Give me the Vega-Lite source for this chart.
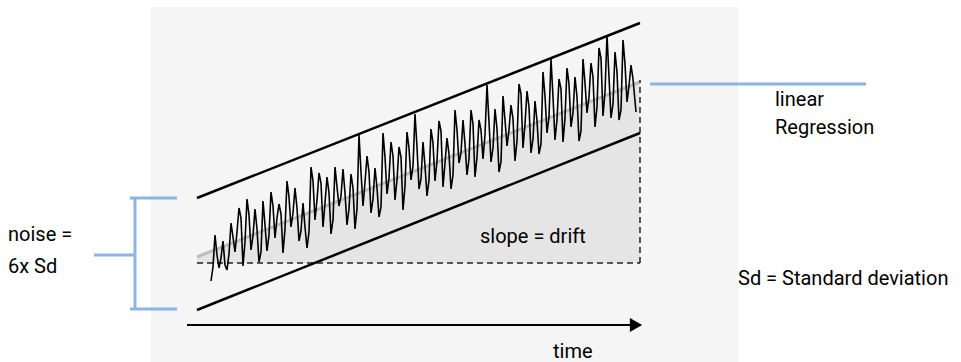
{
  "$schema": "https://vega.github.io/schema/vega-lite/v6.json",
  "width": 961,
  "height": 362,
  "autosize": {"type": "fit", "contains": "padding"},
  "padding": 0,
  "background": "white",
  "config": {"view": {"stroke": null}},
  "datasets": {
    "panel": [{"x1": 151, "x2": 738, "y1": 0, "y2": 355}],
    "fill": [{"x": 197, "y": 105, "y0": 99}, {"x": 640, "y": 280, "y0": 99}],
    "regression": [{"x": 197, "y": 105}, {"x": 640, "y": 280}],
    "dashed": [
      {"x1": 197, "x2": 640, "y1": 99, "y2": 99},
      {"x1": 640, "x2": 640, "y1": 99, "y2": 282}
    ],
    "bands": [
      {"x1": 197, "x2": 640, "y1": 164, "y2": 339},
      {"x1": 197, "x2": 640, "y1": 52, "y2": 229}
    ],
    "timeaxis": [{"x1": 187, "x2": 632, "y1": 37, "y2": 37}],
    "arrow": [{"x": 636, "y": 37}],
    "blue": [
      {"x1": 650, "x2": 866, "y1": 278, "y2": 278},
      {"x1": 135, "x2": 135, "y1": 164, "y2": 53},
      {"x1": 130, "x2": 177, "y1": 164, "y2": 164},
      {"x1": 130, "x2": 177, "y1": 53, "y2": 53},
      {"x1": 94, "x2": 135, "y1": 107, "y2": 107}
    ],
    "labels": [
      {"x": 8, "y": 127, "t": "noise ="},
      {"x": 8, "y": 95, "t": "6x Sd"},
      {"x": 775, "y": 262, "t": "linear"},
      {"x": 775, "y": 234, "t": "Regression"},
      {"x": 738, "y": 83, "t": "Sd = Standard deviation"},
      {"x": 480, "y": 125, "t": "slope = drift"},
      {"x": 553, "y": 10, "t": "time"}
    ],
    "noise": [
      {"x":211,"y":81},{"x":213,"y":95},{"x":215,"y":127},{"x":217,"y":107},{"x":219,"y":94},{"x":221,"y":104},{"x":223,"y":121},{"x":225,"y":97},
      {"x":227,"y":92},{"x":229,"y":108},{"x":231,"y":139},{"x":233,"y":125},{"x":235,"y":110},{"x":237,"y":130},{"x":239,"y":154},{"x":241,"y":144},
      {"x":243,"y":96},{"x":245,"y":120},{"x":247,"y":163},{"x":249,"y":147},{"x":251,"y":112},{"x":253,"y":126},{"x":255,"y":153},{"x":257,"y":133},
      {"x":259,"y":100},{"x":261,"y":110},{"x":263,"y":161},{"x":265,"y":137},{"x":267,"y":111},{"x":269,"y":127},{"x":271,"y":170},{"x":273,"y":156},
      {"x":275,"y":124},{"x":277,"y":144},{"x":279,"y":158},{"x":281,"y":148},{"x":283,"y":109},{"x":285,"y":133},{"x":287,"y":181},{"x":289,"y":165},
      {"x":291,"y":135},{"x":293,"y":149},{"x":295,"y":174},{"x":297,"y":154},{"x":299,"y":121},{"x":301,"y":131},{"x":303,"y":159},{"x":305,"y":135},
      {"x":307,"y":114},{"x":309,"y":130},{"x":311,"y":195},{"x":313,"y":181},{"x":315,"y":142},{"x":317,"y":162},{"x":319,"y":189},{"x":321,"y":179},
      {"x":323,"y":135},{"x":325,"y":159},{"x":327,"y":185},{"x":329,"y":169},{"x":331,"y":128},{"x":333,"y":142},{"x":335,"y":195},{"x":337,"y":175},
      {"x":339,"y":156},{"x":341,"y":166},{"x":343,"y":193},{"x":345,"y":169},{"x":347,"y":137},{"x":349,"y":153},{"x":351,"y":188},{"x":353,"y":174},
      {"x":355,"y":133},{"x":357,"y":153},{"x":359,"y":227},{"x":361,"y":190},{"x":363,"y":156},{"x":365,"y":180},{"x":367,"y":206},{"x":369,"y":190},
      {"x":371,"y":149},{"x":373,"y":163},{"x":375,"y":194},{"x":377,"y":174},{"x":379,"y":145},{"x":381,"y":155},{"x":383,"y":229},{"x":385,"y":205},
      {"x":387,"y":168},{"x":389,"y":184},{"x":391,"y":220},{"x":393,"y":206},{"x":395,"y":162},{"x":397,"y":182},{"x":399,"y":215},{"x":401,"y":205},
      {"x":403,"y":152},{"x":405,"y":176},{"x":407,"y":230},{"x":409,"y":214},{"x":411,"y":182},{"x":413,"y":196},{"x":415,"y":248},{"x":417,"y":215},
      {"x":419,"y":173},{"x":421,"y":183},{"x":423,"y":220},{"x":425,"y":196},{"x":427,"y":166},{"x":429,"y":182},{"x":431,"y":233},{"x":433,"y":219},
      {"x":435,"y":181},{"x":437,"y":201},{"x":439,"y":241},{"x":441,"y":231},{"x":443,"y":175},{"x":445,"y":199},{"x":447,"y":224},{"x":449,"y":208},
      {"x":451,"y":173},{"x":453,"y":187},{"x":455,"y":252},{"x":457,"y":232},{"x":459,"y":199},{"x":461,"y":209},{"x":463,"y":242},{"x":465,"y":218},
      {"x":467,"y":187},{"x":469,"y":203},{"x":471,"y":252},{"x":473,"y":238},{"x":475,"y":185},{"x":477,"y":205},{"x":479,"y":242},{"x":481,"y":232},
      {"x":483,"y":203},{"x":485,"y":227},{"x":487,"y":277},{"x":489,"y":240},{"x":491,"y":200},{"x":493,"y":214},{"x":495,"y":253},{"x":497,"y":233},
      {"x":499,"y":190},{"x":501,"y":200},{"x":503,"y":266},{"x":505,"y":242},{"x":507,"y":216},{"x":509,"y":232},{"x":511,"y":257},{"x":513,"y":243},
      {"x":515,"y":201},{"x":517,"y":221},{"x":519,"y":278},{"x":521,"y":268},{"x":523,"y":214},{"x":525,"y":238},{"x":527,"y":271},{"x":529,"y":255},
      {"x":531,"y":209},{"x":533,"y":223},{"x":535,"y":261},{"x":537,"y":241},{"x":539,"y":208},{"x":541,"y":218},{"x":543,"y":290},{"x":545,"y":266},
      {"x":547,"y":229},{"x":549,"y":245},{"x":551,"y":303},{"x":553,"y":265},{"x":555,"y":222},{"x":557,"y":242},{"x":559,"y":283},{"x":561,"y":273},
      {"x":563,"y":220},{"x":565,"y":244},{"x":567,"y":294},{"x":569,"y":278},{"x":571,"y":235},{"x":573,"y":249},{"x":575,"y":285},{"x":577,"y":265},
      {"x":579,"y":221},{"x":581,"y":231},{"x":583,"y":303},{"x":585,"y":279},{"x":587,"y":249},{"x":589,"y":265},{"x":591,"y":299},{"x":593,"y":285},
      {"x":595,"y":235},{"x":597,"y":255},{"x":599,"y":314},{"x":601,"y":304},{"x":603,"y":246},{"x":605,"y":270},{"x":607,"y":327},{"x":609,"y":285},
      {"x":611,"y":244},{"x":613,"y":258},{"x":615,"y":310},{"x":617,"y":290},{"x":619,"y":242},{"x":621,"y":252},{"x":623,"y":322},{"x":625,"y":298},
      {"x":627,"y":260},{"x":629,"y":276},{"x":631,"y":297},{"x":633,"y":283},{"x":636,"y":250}
    ]
  },
  "layer": [
    {
      "data": {"name": "panel"},
      "mark": {"type": "rect", "color": "#f5f5f5"},
      "encoding": {
        "x": {"field": "x1", "type": "quantitative", "scale": {"domain": [0, 961], "nice": false, "zero": false}, "axis": null},
        "x2": {"field": "x2"},
        "y": {"field": "y1", "type": "quantitative", "scale": {"domain": [0, 362], "nice": false, "zero": false}, "axis": null},
        "y2": {"field": "y2"}
      }
    },
    {
      "data": {"name": "fill"},
      "mark": {"type": "area", "color": "#e5e5e5"},
      "encoding": {
        "x": {"field": "x", "type": "quantitative"},
        "y": {"field": "y", "type": "quantitative"},
        "y2": {"field": "y0"}
      }
    },
    {
      "data": {"name": "regression"},
      "mark": {"type": "line", "color": "#bdbdbd", "strokeWidth": 3},
      "encoding": {
        "x": {"field": "x", "type": "quantitative"},
        "y": {"field": "y", "type": "quantitative"}
      }
    },
    {
      "data": {"name": "dashed"},
      "mark": {"type": "rule", "color": "#222", "strokeWidth": 1.5, "strokeDash": [6, 4]},
      "encoding": {
        "x": {"field": "x1", "type": "quantitative"},
        "x2": {"field": "x2"},
        "y": {"field": "y1", "type": "quantitative"},
        "y2": {"field": "y2"}
      }
    },
    {
      "data": {"name": "noise"},
      "mark": {"type": "line", "color": "#000", "strokeWidth": 1.6, "strokeJoin": "miter"},
      "encoding": {
        "x": {"field": "x", "type": "quantitative"},
        "y": {"field": "y", "type": "quantitative"}
      }
    },
    {
      "data": {"name": "bands"},
      "mark": {"type": "rule", "color": "#000", "strokeWidth": 2.5},
      "encoding": {
        "x": {"field": "x1", "type": "quantitative"},
        "x2": {"field": "x2"},
        "y": {"field": "y1", "type": "quantitative"},
        "y2": {"field": "y2"}
      }
    },
    {
      "data": {"name": "timeaxis"},
      "mark": {"type": "rule", "color": "#000", "strokeWidth": 2},
      "encoding": {
        "x": {"field": "x1", "type": "quantitative"},
        "x2": {"field": "x2"},
        "y": {"field": "y1", "type": "quantitative"},
        "y2": {"field": "y2"}
      }
    },
    {
      "data": {"name": "arrow"},
      "mark": {"type": "point", "shape": "triangle-right", "filled": true, "color": "#000", "opacity": 1, "size": 200},
      "encoding": {
        "x": {"field": "x", "type": "quantitative"},
        "y": {"field": "y", "type": "quantitative"}
      }
    },
    {
      "data": {"name": "blue"},
      "mark": {"type": "rule", "color": "#8db4e2", "strokeWidth": 3},
      "encoding": {
        "x": {"field": "x1", "type": "quantitative"},
        "x2": {"field": "x2"},
        "y": {"field": "y1", "type": "quantitative"},
        "y2": {"field": "y2"}
      }
    },
    {
      "data": {"name": "labels"},
      "mark": {"type": "text", "align": "left", "baseline": "middle", "font": "Roboto", "fontSize": 20, "color": "#000"},
      "encoding": {
        "x": {"field": "x", "type": "quantitative"},
        "y": {"field": "y", "type": "quantitative"},
        "text": {"field": "t"}
      }
    }
  ]
}
